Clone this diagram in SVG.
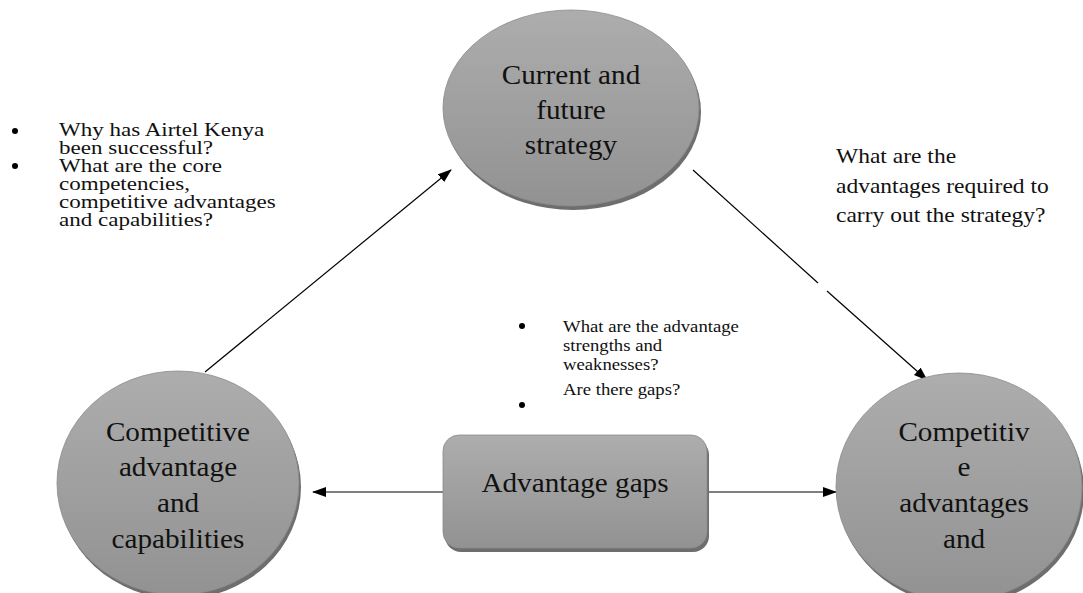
<svg xmlns="http://www.w3.org/2000/svg" width="1083" height="593" viewBox="0 0 1083 593">
<defs>
  <linearGradient id="g" x1="0" y1="0" x2="0" y2="1">
    <stop offset="0" stop-color="#adadad"/>
    <stop offset="1" stop-color="#929292"/>
  </linearGradient>
  <marker id="ah" markerWidth="14" markerHeight="10" refX="13" refY="5" orient="auto" markerUnits="userSpaceOnUse">
    <path d="M0,0 L14,5 L0,10 Z" fill="#000"/>
  </marker>
</defs>
<style>
  .shadow { fill: #6e6e6e; }
  .shape { fill: url(#g); stroke: #8a8a8a; stroke-width: 0.8; }
  .node { font-family: "Liberation Serif", "Times New Roman", serif; font-size: 27px; fill: #111; text-anchor: middle; }
  .note { font-family: "Liberation Serif", "Times New Roman", serif; fill: #111; }
  .conn { stroke: #000; stroke-width: 1.2; fill: none; }
  .dot { fill: #000; }
</style>
<rect width="1083" height="593" fill="#fff"/>

<g id="connectors">
  <line class="conn" x1="205" y1="372" x2="451" y2="170" marker-end="url(#ah)"/>
  <line class="conn" x1="693" y1="170" x2="818" y2="283"/>
  <line class="conn" x1="827" y1="291" x2="927" y2="380" marker-end="url(#ah)"/>
  <line class="conn" x1="443" y1="492" x2="313" y2="492" marker-end="url(#ah)"/>
  <line class="conn" x1="707" y1="492" x2="836" y2="492" marker-end="url(#ah)"/>
</g>

<g id="node-strategy">
  <ellipse class="shadow" cx="573" cy="112" rx="128" ry="98"/>
  <ellipse class="shape" cx="571" cy="108" rx="128" ry="98"/>
  <g transform="translate(571,0) scale(1.08,1)">
    <text class="node" x="0" y="84">Current and</text>
    <text class="node" x="0" y="119">future</text>
    <text class="node" x="0" y="154">strategy</text>
  </g>
</g>

<g id="node-capabilities">
  <ellipse class="shadow" cx="180" cy="487" rx="121" ry="112"/>
  <ellipse class="shape" cx="178" cy="483" rx="121" ry="112"/>
  <g transform="translate(178,0) scale(1.08,1)">
    <text class="node" x="0" y="441">Competitive</text>
    <text class="node" x="0" y="476">advantage</text>
    <text class="node" x="0" y="512">and</text>
    <text class="node" x="0" y="548">capabilities</text>
  </g>
</g>

<g id="node-required">
  <ellipse class="shadow" cx="961" cy="491" rx="123" ry="114"/>
  <ellipse class="shape" cx="959" cy="487" rx="123" ry="114"/>
  <g transform="translate(964,0) scale(1.08,1)">
    <text class="node" x="0" y="441">Competitiv</text>
    <text class="node" x="0" y="476">e</text>
    <text class="node" x="0" y="512">advantages</text>
    <text class="node" x="0" y="548">and</text>
  </g>
</g>

<g id="node-gaps">
  <rect class="shadow" x="445" y="439" width="264" height="113" rx="16"/>
  <rect class="shape" x="443" y="435" width="264" height="113" rx="16"/>
  <g transform="translate(575,0) scale(1.08,1)">
    <text class="node" x="0" y="492">Advantage gaps</text>
  </g>
</g>

<g id="note-left">
  <circle class="dot" cx="15" cy="131" r="3"/>
  <circle class="dot" cx="15" cy="166" r="3"/>
  <g transform="translate(59,0) scale(1.28,1)">
    <text class="note" font-size="18" x="0" y="136">Why has Airtel Kenya</text>
    <text class="note" font-size="18" x="0" y="154">been successful?</text>
    <text class="note" font-size="18" x="0" y="172">What are the core</text>
    <text class="note" font-size="18" x="0" y="190">competencies,</text>
    <text class="note" font-size="18" x="0" y="208">competitive advantages</text>
    <text class="note" font-size="18" x="0" y="226">and capabilities?</text>
  </g>
</g>

<g id="note-middle">
  <circle class="dot" cx="522" cy="326" r="3"/>
  <circle class="dot" cx="522" cy="405" r="3"/>
  <g transform="translate(563,0) scale(1.1,1)">
    <text class="note" font-size="17" x="0" y="332">What are the advantage</text>
    <text class="note" font-size="17" x="0" y="351">strengths and</text>
    <text class="note" font-size="17" x="0" y="370">weaknesses?</text>
    <text class="note" font-size="17" x="0" y="395">Are there gaps?</text>
  </g>
</g>

<g id="note-right">
  <g transform="translate(836,0) scale(1.12,1)">
    <text class="note" font-size="21" x="0" y="163">What are the</text>
    <text class="note" font-size="21" x="0" y="193">advantages required to</text>
    <text class="note" font-size="21" x="0" y="222">carry out the strategy?</text>
  </g>
</g>
</svg>
